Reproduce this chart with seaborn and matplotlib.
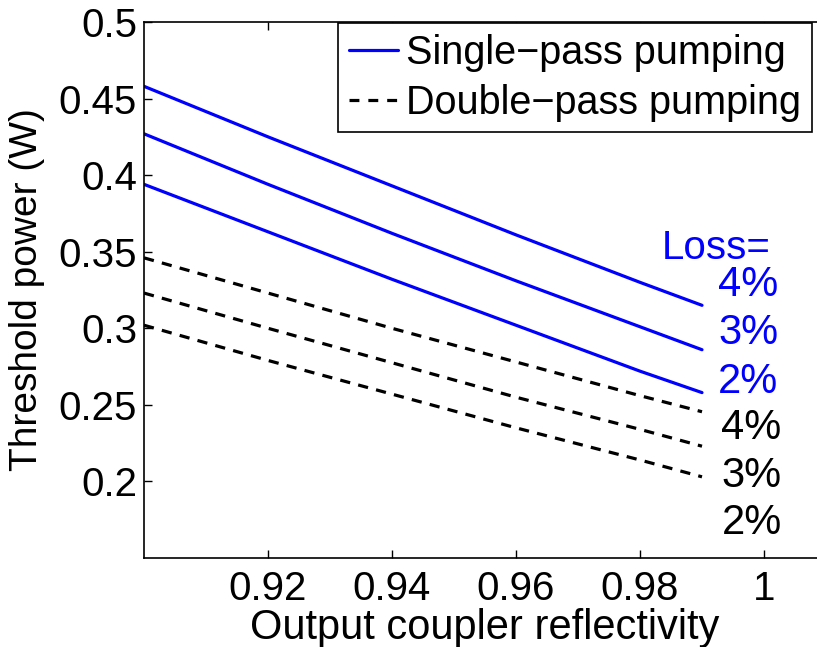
import matplotlib
matplotlib.use("Agg")
import matplotlib.pyplot as plt
import seaborn as sns
import pandas as pd
from matplotlib.lines import Line2D

# Data
reflectivity = [0.90, 0.92, 0.94, 0.96, 0.98, 0.99]
single_4 = [0.458, 0.425, 0.393, 0.361, 0.330, 0.315]
single_3 = [0.427, 0.394, 0.362, 0.331, 0.301, 0.286]
single_2 = [0.394, 0.363, 0.332, 0.302, 0.272, 0.258]
double_4 = [0.346, 0.323, 0.300, 0.278, 0.256, 0.2455]
double_3 = [0.323, 0.300, 0.2775, 0.255, 0.234, 0.223]
double_2 = [0.302, 0.279, 0.257, 0.235, 0.214, 0.203]

x_ticks = [0.92, 0.94, 0.96, 0.98, 1.0]
x_tick_labels = ["0.92", "0.94", "0.96", "0.98", "1"]
y_ticks = [0.2, 0.25, 0.3, 0.35, 0.4, 0.45, 0.5]
y_tick_labels = ["0.2", "0.25", "0.3", "0.35", "0.4", "0.45", "0.5"]
legend_labels = ["Single\u2212pass pumping", "Double\u2212pass pumping"]
loss_labels = ["4%", "3%", "2%"]

sns.set_style("ticks")
plt.rcParams["font.family"] = ["Liberation Sans", "DejaVu Sans"]
plt.rcParams["xtick.direction"] = "in"
plt.rcParams["ytick.direction"] = "in"
plt.rcParams["text.color"] = "black"
plt.rcParams["axes.labelcolor"] = "black"
plt.rcParams["xtick.color"] = "black"
plt.rcParams["ytick.color"] = "black"

fig = plt.figure(figsize=(8.17, 6.47), dpi=100)
W, H = 817, 647
left, right, top, bottom = 144, 826, 22, 558
ax = fig.add_axes([left / W, 1 - bottom / H, (right - left) / W, (bottom - top) / H])

rows = []
for name, vals in [("s4", single_4), ("s3", single_3), ("s2", single_2),
                   ("d4", double_4), ("d3", double_3), ("d2", double_2)]:
    for xv, yv in zip(reflectivity, vals):
        rows.append({"R": xv, "P": yv, "series": name})
df = pd.DataFrame(rows)

blue = "#0000ff"
for name in ["s4", "s3", "s2"]:
    sns.lineplot(data=df[df.series == name], x="R", y="P", color=blue,
                 linewidth=2.3, ax=ax, legend=False)
for name in ["d4", "d3", "d2"]:
    sns.lineplot(data=df[df.series == name], x="R", y="P", color="black",
                 linewidth=2.3, dashes=False, ax=ax, legend=False,
                 linestyle=(0, (3.2, 2.6)))

ax.set_xlim(0.9, 1.01)
ax.set_ylim(0.15, 0.5)
ax.set_xticks(x_ticks)
ax.set_xticklabels(x_tick_labels)
ax.set_yticks(y_ticks)
ax.set_yticklabels(y_tick_labels)
ax.tick_params(axis="both", labelsize=29, length=6, width=1, color="black",
               labelcolor="black", top=True, right=True)
ax.tick_params(axis="x", pad=9)
ax.tick_params(axis="y", pad=5)
for s in ax.spines.values():
    s.set_linewidth(1.2)
    s.set_color("black")

ax.set_xlabel("Output coupler reflectivity", fontsize=30, labelpad=0, color="black")
ax.set_ylabel("Threshold power (W)", fontsize=28, labelpad=10, color="black")

handles = [Line2D([], [], color=blue, linewidth=2.3),
           Line2D([], [], color="black", linewidth=2.3, linestyle=(0, (3.1, 2.8)))]
leg = ax.legend(handles, legend_labels, fontsize=28.5, loc="upper right",
                bbox_to_anchor=(812 / W, 1 - 23 / H), bbox_transform=fig.transFigure,
                borderaxespad=0, borderpad=0.27, handlelength=1.25,
                handletextpad=0.2, labelspacing=0.3, fancybox=False,
                frameon=True, framealpha=1)
leg.get_frame().set_edgecolor("black")
leg.get_frame().set_linewidth(1.2)
for t in leg.get_texts():
    t.set_color("black")

# Loss annotations
ax.text(1.001, 0.3523, "Loss=", color=blue, fontsize=29, ha="right", va="center")
for lab, yv in zip(loss_labels, [0.3282, 0.2969, 0.2649]):
    ax.text(0.9975, yv, lab, color=blue, fontsize=30, ha="center", va="center")
for lab, yv in zip(loss_labels, [0.2349, 0.2035, 0.1728]):
    ax.text(0.998, yv, lab, color="black", fontsize=30, ha="center", va="center")

fig.savefig("out.png", dpi=100)
